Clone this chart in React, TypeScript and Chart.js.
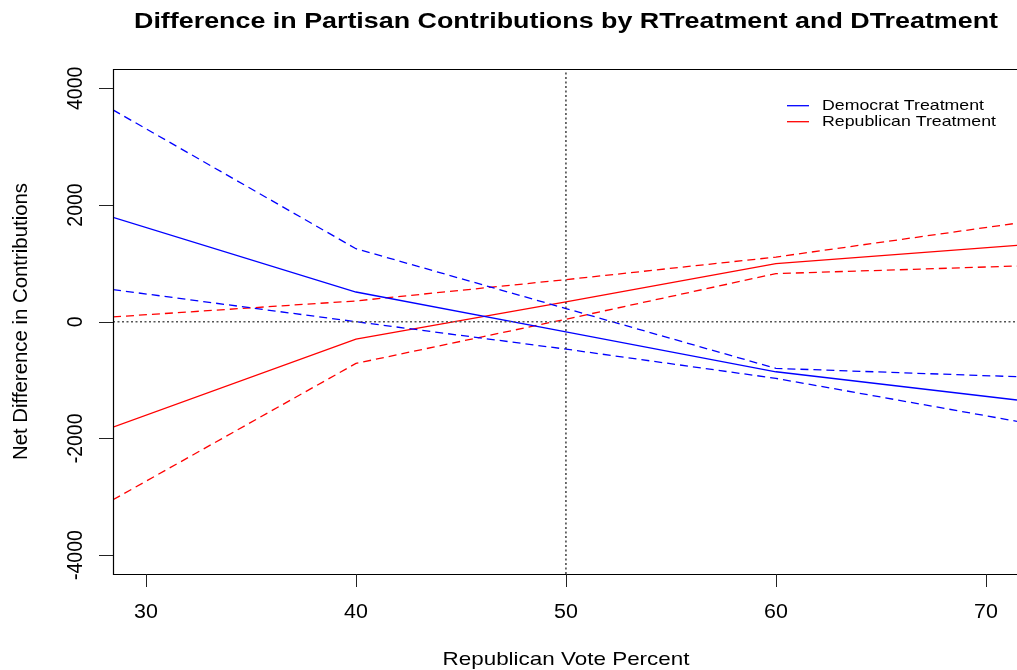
import React, { useEffect, useRef } from "react";
import { Chart, registerables } from "chart.js";

Chart.register(...registerables);

// ---- data ----
const xPoints = [28.43, 40, 50, 60, 71.48];
const demEst = [1790, 509, -174, -858, -1342];
const demUpper = [3630, 1251, 225, -800, -943];
const demLower = [550, 0, -470, -971, -1707];
const repEst = [-1809, -299, 339, 995, 1308];
const repUpper = [82, 356, 721, 1108, 1689];
const repLower = [-3051, -715, 43, 824, 954];

const xTicks = [30, 40, 50, 60, 70];
const yTicks = [-4000, -2000, 0, 2000, 4000];
const xRange = [28.43, 71.48];
const yRange = [-4324, 4331];
const refX = 50;
const refY = 0;

const titleText = "Difference in Partisan Contributions by RTreatment and DTreatment";
const xTitle = "Republican Vote Percent";
const yTitle = "Net Difference in Contributions";
const legendLabels = ["Democrat Treatment", "Republican Treatment"];
const legendColors = ["#0000FF", "#FF0000"];

const FAMILY = '"Liberation Sans", Arial, Helvetica, sans-serif';

function pts(ys: number[]) {
  return xPoints.map((x, i) => ({ x, y: ys[i] }));
}

type TxtOpts = {
  align?: CanvasTextAlign;
  baseline?: CanvasTextBaseline;
  rotate?: boolean;
  length?: number;
  stretch?: number;
};

function drawText(ctx: CanvasRenderingContext2D, s: string, x: number, y: number, font: string, o: TxtOpts = {}) {
  ctx.save();
  ctx.font = font;
  ctx.fillStyle = "#000";
  ctx.textAlign = o.align || "center";
  ctx.textBaseline = o.baseline || "alphabetic";
  const w = ctx.measureText(s).width;
  const stretch = o.stretch ?? 1.1;
  ctx.translate(x, y);
  if (o.rotate) {
    const sy = o.length ? o.length / w : 1;
    ctx.scale(stretch, sy);
    ctx.rotate(-Math.PI / 2);
  } else {
    const sx = o.length ? o.length / w : stretch;
    ctx.scale(sx, 1);
  }
  ctx.fillText(s, 0, 0);
  ctx.restore();
}

const decorPlugin = {
  id: "decor",
  afterDraw(chart: any) {
    const ctx: CanvasRenderingContext2D = chart.ctx;
    const a = chart.chartArea;
    const xs = chart.scales.x;
    const ys = chart.scales.y;

    // box: left, top, bottom (right side is outside the picture)
    ctx.save();
    ctx.strokeStyle = "#000";
    ctx.lineWidth = 1.2;
    ctx.beginPath();
    ctx.moveTo(chart.width, Math.round(a.top) + 0.5);
    ctx.lineTo(Math.round(a.left) + 0.5, Math.round(a.top) + 0.5);
    ctx.lineTo(Math.round(a.left) + 0.5, Math.round(a.bottom) + 0.5);
    ctx.lineTo(chart.width, Math.round(a.bottom) + 0.5);
    ctx.stroke();

    // ticks
    ctx.strokeStyle = "#222";
    ctx.lineWidth = 1;
    ctx.beginPath();
    xTicks.forEach((t) => {
      const px = Math.round(xs.getPixelForValue(t)) + 0.5;
      ctx.moveTo(px, a.bottom);
      ctx.lineTo(px, a.bottom + 13);
    });
    yTicks.forEach((t) => {
      const py = Math.round(ys.getPixelForValue(t)) + 0.5;
      ctx.moveTo(a.left, py);
      ctx.lineTo(a.left - 14, py);
    });
    ctx.stroke();
    ctx.restore();

    const tickFont = `19.5px ${FAMILY}`;
    xTicks.forEach((t) => {
      drawText(ctx, String(t), xs.getPixelForValue(t), 618, tickFont);
    });
    yTicks.forEach((t) => {
      drawText(ctx, String(t), 81.5, ys.getPixelForValue(t), tickFont, { rotate: true });
    });

    drawText(ctx, titleText, 134, 27.5, `bold 22px ${FAMILY}`, { align: "left", length: 864 });
    drawText(ctx, xTitle, 566, 665, `19px ${FAMILY}`, { length: 247 });
    drawText(ctx, yTitle, 27, 321.5, `19px ${FAMILY}`, { rotate: true, length: 277 });

    // legend
    const lys = [105.7, 121.7];
    const lws = [162, 174];
    legendLabels.forEach((lab, i) => {
      ctx.save();
      ctx.strokeStyle = legendColors[i];
      ctx.lineWidth = 1.3;
      ctx.beginPath();
      ctx.moveTo(787, lys[i]);
      ctx.lineTo(809, lys[i]);
      ctx.stroke();
      ctx.restore();
      drawText(ctx, lab, 822, lys[i] + 0.5, `15px ${FAMILY}`, { align: "left", baseline: "middle", length: lws[i] });
    });
  },
};

export default function App() {
  const ref = useRef<HTMLCanvasElement | null>(null);
  useEffect(() => {
    if (!ref.current) return;
    const dash = [8, 5];
    const mk = (label: string, ys: number[], color: string, d: number[]) => ({
      label,
      data: pts(ys),
      borderColor: color,
      backgroundColor: color,
      borderWidth: 1.3,
      borderDash: d,
      pointRadius: 0,
      showLine: true,
      tension: 0,
      fill: false,
    });
    const chart = new Chart(ref.current, {
      type: "scatter",
      data: {
        datasets: [
          {
            label: "zero",
            data: [{ x: xRange[0], y: refY }, { x: xRange[1], y: refY }],
            borderColor: "#555555",
            borderWidth: 1.4,
            borderDash: [2, 2.5],
            pointRadius: 0,
            showLine: true,
          },
          {
            label: "fifty",
            data: [{ x: refX, y: yRange[0] }, { x: refX, y: yRange[1] }],
            borderColor: "#111111",
            borderWidth: 1.2,
            borderDash: [2, 2.5],
            pointRadius: 0,
            showLine: true,
          },
          mk("Democrat Treatment", demEst, "#0000FF", []),
          mk("Democrat upper", demUpper, "#0000FF", dash),
          mk("Democrat lower", demLower, "#0000FF", dash),
          mk("Republican Treatment", repEst, "#FF0000", []),
          mk("Republican upper", repUpper, "#FF0000", dash),
          mk("Republican lower", repLower, "#FF0000", dash),
        ] as any,
      },
      options: {
        animation: false,
        responsive: false,
        maintainAspectRatio: false,
        devicePixelRatio: 1,
        layout: { padding: { left: 113, top: 69, right: 0, bottom: 96 } },
        scales: {
          x: { type: "linear", min: xRange[0], max: xRange[1], display: false },
          y: { type: "linear", min: yRange[0], max: yRange[1], display: false },
        },
        plugins: {
          legend: { display: false },
          tooltip: { enabled: false },
          title: { display: false },
        },
        events: [],
      },
      plugins: [decorPlugin],
    });
    return () => chart.destroy();
  }, []);
  return (
    <div style={{ position: "absolute", left: 0, top: 0, width: 1017, height: 670, background: "#fff" }}>
      <canvas ref={ref} width={1017} height={670} />
    </div>
  );
}
